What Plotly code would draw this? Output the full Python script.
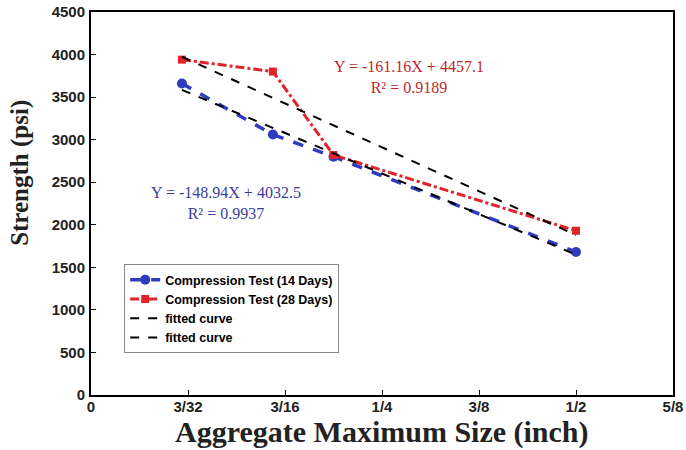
import plotly.graph_objects as go

# X in 1/32 inch units
x_size = [3, 6, 8, 16]
strength_14 = [3660, 3060, 2800, 1680]
strength_28 = [3940, 3800, 2820, 1930]
fit_x = [3, 16]
fit_14 = [3585, 1649]
fit_28 = [3974, 1879]

tick_vals = [0, 3.2, 6.4, 9.6, 12.8, 16, 19.2]
tick_text = ["0", "3/32", "3/16", "1/4", "3/8", "1/2", "5/8"]

blue = "#2f3cc0"
red = "#e3232a"
txt = "#222222"

fig = go.Figure()
fig.add_trace(go.Scatter(x=x_size, y=strength_14, mode="lines+markers",
                         name="Compression Test (14 Days)",
                         line=dict(color=blue, width=3.5, dash="dash"),
                         marker=dict(symbol="circle", size=10, color=blue)))
fig.add_trace(go.Scatter(x=x_size, y=strength_28, mode="lines+markers",
                         name="Compression Test (28 Days)",
                         line=dict(color=red, width=3, dash="dashdot"),
                         marker=dict(symbol="square", size=8, color=red)))
fig.add_trace(go.Scatter(x=fit_x, y=fit_14, mode="lines", name="fitted curve",
                         line=dict(color="black", width=2, dash="dash")))
fig.add_trace(go.Scatter(x=fit_x, y=fit_28, mode="lines", name="fitted curve",
                         line=dict(color="black", width=2, dash="dash")))

fig.add_annotation(x=10.5, y=3740, xref="x", yref="y",
                   text="Y = -161.16X + 4457.1<br>R² = 0.9189",
                   showarrow=False, align="center",
                   font=dict(family="Liberation Serif", size=16, color="#c0282d"))
fig.add_annotation(x=4.45, y=2256, xref="x", yref="y",
                   text="Y = -148.94X + 4032.5<br>R² = 0.9937",
                   showarrow=False, align="center",
                   font=dict(family="Liberation Serif", size=16, color="#3a3d9e"))

# axis titles
fig.add_annotation(x=0.5, y=-0.096, xref="paper", yref="paper",
                   text="Aggregate Maximum Size (inch)", showarrow=False,
                   xanchor="center", yanchor="middle",
                   font=dict(family="Liberation Serif", size=30, color=txt, weight="bold"))
fig.add_annotation(x=-0.122, y=0.58, xref="paper", yref="paper",
                   text="Strength (psi)", showarrow=False, textangle=-90,
                   xanchor="center", yanchor="middle",
                   font=dict(family="Liberation Serif", size=25, color=txt, weight="bold"))

fig.update_layout(
    width=686, height=450,
    margin=dict(l=91, r=13, t=12, b=55),
    paper_bgcolor="white", plot_bgcolor="white",
    showlegend=True,
    legend=dict(x=0.057, y=0.342, xanchor="left", yanchor="top",
                bgcolor="white", bordercolor="#888888", borderwidth=1,
                font=dict(family="Liberation Sans", size=12.5, color="black", weight="bold"),
                tracegroupgap=0, itemwidth=30),
    xaxis=dict(range=[0, 19.2], tickmode="array", tickvals=tick_vals, ticktext=tick_text,
               automargin=False, ticklabelstandoff=-3, ticklabeloverflow="allow",
               showgrid=False, zeroline=False, showline=True, linecolor="black", linewidth=2,
               mirror=True, ticks="inside", ticklen=5, tickcolor="black",
               tickfont=dict(family="Liberation Sans", size=15, color=txt, weight="bold")),
    yaxis=dict(range=[0, 4500], tickmode="array", tickvals=list(range(0, 4501, 500)),
               automargin=False, ticklabelstandoff=1, ticklabeloverflow="allow",
               showgrid=False, zeroline=False, showline=True, linecolor="black", linewidth=2,
               mirror=True, ticks="inside", ticklen=5, tickcolor="black",
               tickfont=dict(family="Liberation Sans", size=15, color=txt, weight="bold")),
)

fig.write_html("out.html", config={"displayModeBar": False},
               post_script="document.body.style.margin='0';document.body.style.overflow='hidden';")
